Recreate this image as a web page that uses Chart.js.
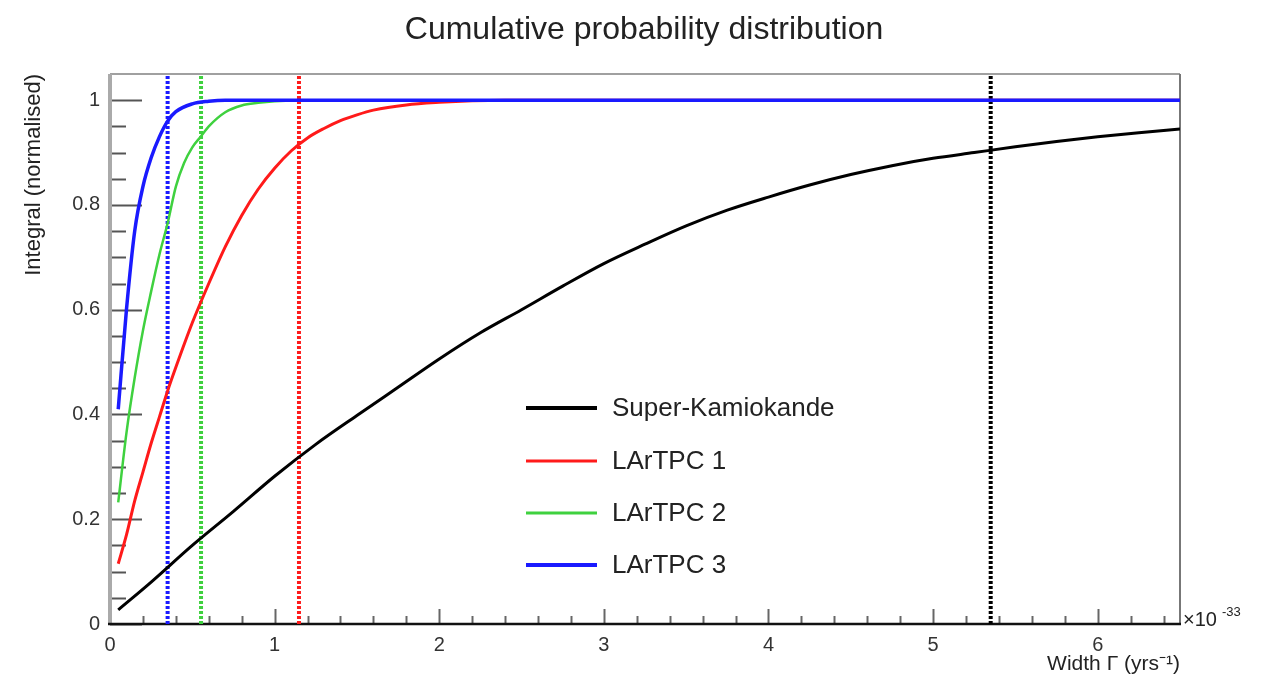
<!DOCTYPE html>
<html>
<head>
<meta charset="utf-8">
<script src="https://cdn.jsdelivr.net/npm/chart.js@4/dist/chart.umd.min.js"></script>
<style>
  html, body { margin: 0; padding: 0; background: #fff; }
  #wrap { width: 1268px; height: 674px; }
</style>
</head>
<body>
<div id="wrap"><canvas id="c" width="1268" height="674"></canvas></div>
<script>
// values (x in units of 1e-33 / yr)
const skX = [0.05, 0.25, 0.5, 0.75, 1, 1.25, 1.5, 1.75, 2, 2.25, 2.5, 2.75, 3, 3.25, 3.5, 3.75, 4, 4.25, 4.5, 4.75, 5, 5.25, 5.5, 5.75, 6, 6.25, 6.5];
const skY = [0.027, 0.08, 0.15, 0.215, 0.282, 0.343, 0.398, 0.452, 0.506, 0.556, 0.600, 0.645, 0.688, 0.725, 0.760, 0.790, 0.815, 0.838, 0.858, 0.875, 0.889, 0.900, 0.911, 0.921, 0.930, 0.938, 0.945];

const lar1X = [0.05, 0.1, 0.15, 0.2, 0.25, 0.3, 0.35, 0.4, 0.5, 0.6, 0.7, 0.8, 0.9, 1, 1.1, 1.2, 1.3, 1.4, 1.5, 1.6, 1.8, 2, 2.2, 2.4, 6.5];
const lar1Y = [0.115, 0.17, 0.235, 0.29, 0.345, 0.395, 0.445, 0.49, 0.575, 0.65, 0.72, 0.78, 0.83, 0.87, 0.903, 0.928, 0.946, 0.961, 0.972, 0.981, 0.991, 0.996, 0.999, 1, 1];

const lar2X = [0.05, 0.1, 0.15, 0.2, 0.25, 0.3, 0.35, 0.4, 0.45, 0.5, 0.55, 0.6, 0.7, 0.8, 0.9, 1, 1.2, 6.5];
const lar2Y = [0.232, 0.365, 0.47, 0.56, 0.635, 0.705, 0.765, 0.835, 0.88, 0.91, 0.93, 0.95, 0.977, 0.99, 0.995, 0.998, 1, 1];

const lar3X = [0.05, 0.1, 0.15, 0.2, 0.25, 0.3, 0.35, 0.4, 0.5, 0.6, 0.7, 0.8, 6.5];
const lar3Y = [0.41, 0.60, 0.75, 0.835, 0.89, 0.93, 0.96, 0.978, 0.993, 0.998, 1, 1, 1];

const names = ['Super-Kamiokande', 'LArTPC 1', 'LArTPC 2', 'LArTPC 3'];
const colors = ['#000000', '#ff1a1a', '#3fd13f', '#1a1aff'];
const widths = [3, 3, 2.5, 3.5];
// dotted markers (90% point of each curve)
const cutX = [5.35, 1.148, 0.553, 0.35];

const seriesX = [skX, lar1X, lar2X, lar3X];
const seriesY = [skY, lar1Y, lar2Y, lar3Y];

const X_MAX = 6.5;
const Y_MAX = 1.05;

const toPoints = (xs, ys) => xs.map((x, i) => ({ x: x, y: ys[i] }));

const datasets = [];
names.forEach((name, i) => {
  datasets.push({
    label: name,
    data: toPoints(seriesX[i], seriesY[i]),
    borderColor: colors[i],
    borderWidth: widths[i],
    pointRadius: 0,
    fill: false,
    cubicInterpolationMode: 'monotone',
    order: 10 - i
  });
});
cutX.forEach((x, i) => {
  datasets.push({
    label: 'cut ' + names[i],
    data: [{ x: x, y: 0 }, { x: x, y: Y_MAX }],
    borderColor: colors[i],
    borderWidth: 4,
    borderDash: [3, 2],
    pointRadius: 0,
    fill: false,
    order: 20
  });
});

const isMult = (v, step) => Math.abs(v / step - Math.round(v / step)) < 1e-6;

const rootStyle = {
  id: 'rootStyle',
  beforeDatasetsDraw(chart) {
    const ctx = chart.ctx;
    const a = chart.chartArea;
    const xs = chart.scales.x;
    const ys = chart.scales.y;
    ctx.save();
    // tick marks inside the frame
    ctx.strokeStyle = '#555';
    ctx.lineWidth = 2;
    ys.ticks.forEach(t => {
      if (t.value > 1.001) return;
      const py = Math.round(ys.getPixelForValue(t.value)) + 0.5;
      const len = isMult(t.value, 0.2) ? 32 : 16;
      ctx.beginPath();
      ctx.moveTo(a.left, py);
      ctx.lineTo(a.left + len, py);
      ctx.stroke();
    });
    ctx.strokeStyle = '#666';
    xs.ticks.forEach(t => {
      const px = Math.round(xs.getPixelForValue(t.value)) + 0.5;
      const len = isMult(t.value, 1) ? 15 : 8;
      ctx.beginPath();
      ctx.moveTo(px, a.bottom);
      ctx.lineTo(px, a.bottom - len);
      ctx.stroke();
    });
    // frame
    ctx.lineWidth = 2;
    ctx.strokeStyle = '#a0a0a0';
    ctx.beginPath();
    ctx.moveTo(a.left, a.top);
    ctx.lineTo(a.right, a.top);
    ctx.stroke();
    ctx.strokeStyle = '#777';
    ctx.beginPath();
    ctx.moveTo(a.right, a.top);
    ctx.lineTo(a.right, a.bottom);
    ctx.stroke();
    ctx.strokeStyle = '#aaa';
    ctx.lineWidth = 4;
    ctx.beginPath();
    ctx.moveTo(a.left, a.top);
    ctx.lineTo(a.left, a.bottom);
    ctx.stroke();
    ctx.strokeStyle = '#111';
    ctx.lineWidth = 2.5;
    ctx.beginPath();
    ctx.moveTo(a.left - 2, a.bottom);
    ctx.lineTo(a.right + 1, a.bottom);
    ctx.stroke();
    ctx.restore();
  },
  afterDraw(chart) {
    const ctx = chart.ctx;
    const a = chart.chartArea;
    const font = '"Liberation Sans", Arial, sans-serif';
    ctx.save();
    ctx.fillStyle = '#222';
    // title
    ctx.font = '32px ' + font;
    ctx.textAlign = 'center';
    ctx.textBaseline = 'middle';
    ctx.fillText('Cumulative probability distribution', 644, 30);
    // x axis title, right aligned
    ctx.font = '21px ' + font;
    ctx.textAlign = 'right';
    ctx.textBaseline = 'middle';
    ctx.fillText('Width \u0393 (yrs\u207B\u00B9)', a.right, 664);
    // exponent
    ctx.font = '20px ' + font;
    ctx.textAlign = 'left';
    ctx.fillText('\u00D710', a.right + 3, 620);
    ctx.font = '13px ' + font;
    ctx.fillText('-33', a.right + 42, 612);
    // y axis title, rotated and aligned to the top of the frame
    ctx.font = '22px ' + font;
    ctx.translate(34, a.top);
    ctx.rotate(-Math.PI / 2);
    ctx.textAlign = 'right';
    ctx.textBaseline = 'middle';
    ctx.fillText('Integral (normalised)', 0, 0);
    ctx.restore();

    // legend inside the frame
    ctx.save();
    ctx.font = '26px ' + font;
    ctx.textBaseline = 'middle';
    ctx.textAlign = 'left';
    const rowY = [408, 461, 513, 565];
    names.forEach((name, i) => {
      ctx.strokeStyle = colors[i];
      ctx.lineWidth = i === 0 || i === 3 ? 4 : 3;
      ctx.beginPath();
      ctx.moveTo(526, rowY[i]);
      ctx.lineTo(597, rowY[i]);
      ctx.stroke();
      ctx.fillStyle = '#222';
      ctx.fillText(name, 612, rowY[i] + 1);
    });
    ctx.restore();
  }
};

new Chart(document.getElementById('c').getContext('2d'), {
  type: 'line',
  data: { datasets: datasets },
  options: {
    responsive: false,
    animation: false,
    devicePixelRatio: 1,
    layout: { padding: { left: 10, right: 88, top: 74, bottom: 0 } },
    plugins: {
      legend: { display: false },
      title: { display: false },
      tooltip: { enabled: false }
    },
    scales: {
      x: {
        type: 'linear',
        min: 0,
        max: X_MAX,
        grid: { display: false, drawTicks: false },
        border: { display: false },
        afterFit: (s) => { s.height = 50; },
        ticks: {
          stepSize: 0.2,
          includeBounds: false,
          autoSkip: false,
          maxRotation: 0,
          padding: 9,
          color: '#333',
          font: { family: '"Liberation Sans", Arial, sans-serif', size: 20 },
          callback: (v) => isMult(v, 1) ? String(Math.round(v)) : ''
        }
      },
      y: {
        type: 'linear',
        min: 0,
        max: Y_MAX,
        grid: { display: false, drawTicks: false },
        border: { display: false },
        afterFit: (s) => { s.width = 100; },
        ticks: {
          stepSize: 0.05,
          includeBounds: false,
          autoSkip: false,
          padding: 10,
          color: '#333',
          font: { family: '"Liberation Sans", Arial, sans-serif', size: 20 },
          callback: (v) => {
            if (!isMult(v, 0.2)) return '';
            if (Math.abs(v) < 1e-6) return '0';
            if (Math.abs(v - 1) < 1e-6) return '1';
            return v.toFixed(1);
          }
        }
      }
    }
  },
  plugins: [rootStyle]
});
</script>
</body>
</html>
